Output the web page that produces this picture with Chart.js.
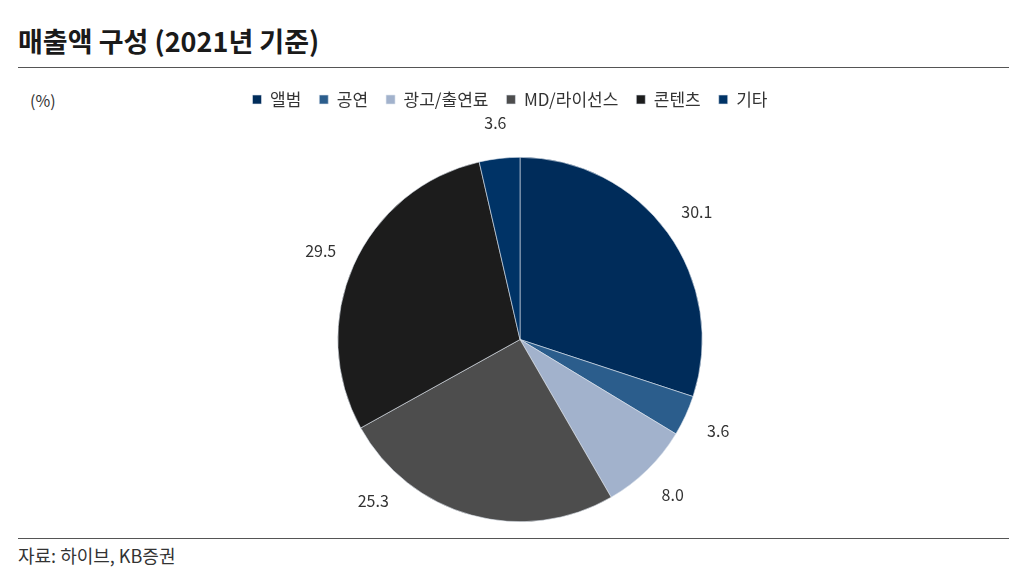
<!DOCTYPE html>
<html>
<head>
<meta charset="utf-8">
<script src="https://cdn.jsdelivr.net/npm/chart.js@4"></script>
<style>
  body { margin: 0; background: #fff; font-family: "Noto Sans CJK KR", "Noto Sans", sans-serif; }
  .title { position: absolute; left: 18px; top: 21px; font-size: 27px; font-weight: bold; color: #1a1a1a; }
  .rule { position: absolute; left: 18px; width: 991px; height: 1px; background: #555; }
  .unit { position: absolute; left: 30px; top: 88px; font-size: 16px; color: #333; }
  .source { position: absolute; left: 18px; top: 542px; font-size: 18px; color: #333; }
  .wrap { position: absolute; left: 10px; top: 73px; width: 1000px; height: 463px; }
</style>
</head>
<body>
<div class="title">매출액 구성 (2021년 기준)</div>
<div class="rule" style="top:67px"></div>
<div class="unit">(%)</div>
<div class="wrap"><canvas id="chart"></canvas></div>
<div class="rule" style="top:538px"></div>
<div class="source">자료: 하이브, KB증권</div>
<script>
var categories = ['앨범', '공연', '광고/출연료', 'MD/라이선스', '콘텐츠', '기타'];
var shares = [30.1, 3.6, 8.0, 25.3, 29.5, 3.6];
var colors = ['#002c5a', '#2b5d8c', '#a2b2cc', '#4d4d4d', '#1c1c1c', '#003366'];

// values printed just outside each slice, pushed sideways if they would drop off the bottom
var outsideLabels = {
  id: 'outsideLabels',
  afterDatasetsDraw: function(chart){
    var ctx = chart.ctx;
    var meta = chart.getDatasetMeta(0);
    var maxY = chart.chartArea.bottom - 21;
    ctx.save();
    ctx.font = '16px "Noto Sans CJK KR", sans-serif';
    ctx.fillStyle = '#333';
    ctx.textAlign = 'center';
    ctx.textBaseline = 'middle';
    meta.data.forEach(function(arc, i){
      var p = arc.getProps(['x', 'y', 'startAngle', 'endAngle', 'outerRadius'], true);
      var mid = (p.startAngle + p.endAngle) / 2;
      var r = p.outerRadius + 36;
      var lx = p.x + Math.cos(mid) * r;
      var ly = p.y + Math.sin(mid) * r;
      if (ly > maxY) {
        ly = maxY;
        var side = Math.cos(mid) < 0 ? -1 : 1;
        lx = p.x + side * Math.sqrt(r * r - (ly - p.y) * (ly - p.y));
      }
      ctx.fillText(shares[i].toFixed(1), lx, ly);
    });
    ctx.restore();
  }
};

// extra room between legend and pie, legend sits a bit left of the pie
var legendGap = {
  id: 'legendGap',
  beforeInit: function(chart){
    var fit = chart.legend.fit;
    chart.legend.fit = function(){
      fit.bind(chart.legend)();
      this.height += 39;
    };
  },
  afterLayout: function(chart){
    chart.legend.left -= 10;
    chart.legend.right -= 10;
  }
};

new Chart(document.getElementById('chart'), {
  type: 'pie',
  data: {
    labels: categories,
    datasets: [{
      data: shares,
      backgroundColor: colors,
      borderColor: '#dfe6ef',
      borderWidth: 0.6
    }]
  },
  options: {
    responsive: true,
    maintainAspectRatio: false,
    animation: false,
    layout: { padding: { top: 0, bottom: 14, left: 20, right: 0 } },
    plugins: {
      legend: {
        position: 'top',
        labels: {
          boxWidth: 9,
          boxHeight: 9,
          padding: 18,
          color: '#333',
          font: { size: 17, family: '"Noto Sans CJK KR", sans-serif' }
        }
      },
      tooltip: { enabled: false }
    }
  },
  plugins: [outsideLabels, legendGap]
});
</script>
</body>
</html>
